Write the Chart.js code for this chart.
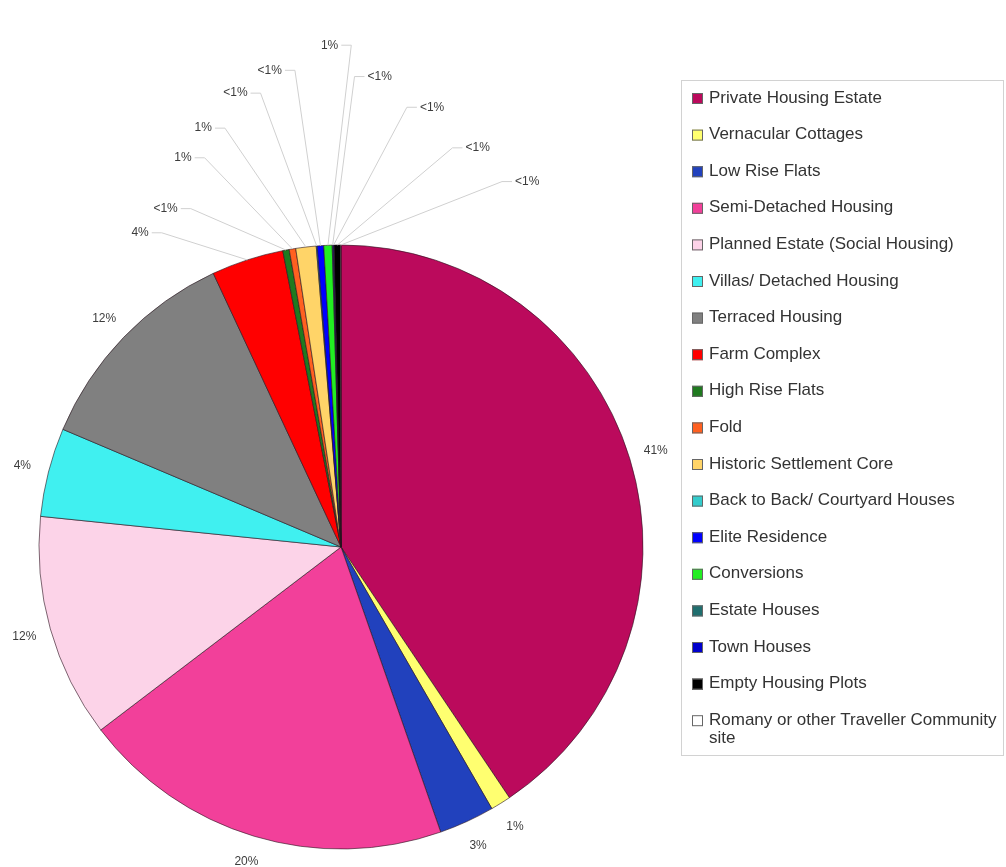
<!DOCTYPE html>
<html>
<head>
<meta charset="utf-8">
<style>
html, body { margin: 0; padding: 0; background: #fff; }
#wrap { width: 1006px; height: 867px; }
</style>
</head>
<body>
<div id="wrap"><canvas id="myChart" width="1006" height="867"></canvas></div>
<script src="https://cdn.jsdelivr.net/npm/chart.js@4/dist/chart.umd.min.js"></script>
<script>
// Housing types, in slice order (clockwise from 12 o'clock)
const categories = [
    'Private Housing Estate',
    'Vernacular Cottages',
    'Low Rise Flats',
    'Semi-Detached Housing',
    'Planned Estate (Social Housing)',
    'Villas/ Detached Housing',
    'Terraced Housing',
    'Farm Complex',
    'High Rise Flats',
    'Fold',
    'Historic Settlement Core',
    'Back to Back/ Courtyard Houses',
    'Elite Residence',
    'Conversions',
    'Estate Houses',
    'Town Houses',
    'Empty Housing Plots',
    'Romany or other Traveller Community site'
];

// Share of each type (%)
const shares = [41, 1.1, 3.0, 20.2, 12.1, 4.8, 11.8, 3.9, 0.35, 0.35, 1.1, 0.05, 0.35, 0.45, 0.05, 0.05, 0.35, 0.02];

// Labels as printed on the chart
const shareLabels = ['41%', '1%', '3%', '20%', '12%', '4%', '12%', '4%', '<1%', '1%', '1%', '<1%', '<1%', '1%', '<1%', '<1%', '<1%', '<1%'];

const sliceColors = [
    '#bb0a5c', '#ffff70', '#2141bd', '#f2409a', '#fcd3e8', '#40f0f0',
    '#808080', '#ff0000', '#1f7a1f', '#ff6020', '#ffd468', '#33cccc',
    '#0000ff', '#22ee22', '#1f6f6f', '#0000cc', '#000000', '#ffffff'
];

// slices from this index on get labels fanned out above the pie
const firstFanned = 7;
// where the fanned labels sit: degrees from 12 o'clock, distance in pie radii
const fanAngles = [-32.6, -27.4, -22.1, -18.2, -13.1, -8.5, -1.3, 4.7, 11.7, 18.9, 27];
const fanDistances = [1.235, 1.262, 1.391, 1.46, 1.543, 1.596, 1.662, 1.563, 1.487, 1.397, 1.358];

const labelFont = '12px "Liberation Sans", Arial, sans-serif';
const legendFont = '17px "Liberation Sans", Arial, sans-serif';

// Labels around the pie, with leader lines for the thin slices
const sliceLabels = {
    id: 'sliceLabels',
    afterDatasetsDraw(chart) {
        const ctx = chart.ctx;
        const arcs = chart.getDatasetMeta(0).data;
        const cx = arcs[0].x, cy = arcs[0].y, R = arcs[0].outerRadius;
        ctx.save();
        ctx.font = labelFont;
        ctx.fillStyle = '#3c3c3c';
        ctx.textBaseline = 'middle';
        ctx.textAlign = 'center';
        ctx.strokeStyle = '#d0d0d0';
        ctx.lineWidth = 1;
        arcs.forEach((arc, i) => {
            const mid = (arc.startAngle + arc.endAngle) / 2;
            if (i < firstFanned) {
                ctx.fillText(shareLabels[i], cx + Math.cos(mid) * (R + 27), cy + Math.sin(mid) * (R + 27));
                return;
            }
            const k = i - firstFanned;
            const rad = fanAngles[k] * Math.PI / 180;
            const d = R * fanDistances[k];
            const lx = cx + Math.sin(rad) * d;
            const ly = cy - Math.cos(rad) * d;
            const half = ctx.measureText(shareLabels[i]).width / 2;
            const dir = fanAngles[k] < 0 ? 1 : -1;
            const stubStart = lx + dir * (half + 3);
            const stubEnd = stubStart + dir * 10;
            ctx.beginPath();
            ctx.moveTo(cx + Math.cos(mid) * R, cy + Math.sin(mid) * R);
            ctx.lineTo(stubEnd, ly);
            ctx.lineTo(stubStart, ly);
            ctx.stroke();
            ctx.fillText(shareLabels[i], lx, ly);
        });
        ctx.restore();
    }
};

// Boxed legend on the right
const boxLegend = {
    id: 'boxLegend',
    afterDraw(chart) {
        const ctx = chart.ctx;
        const left = 681, top = 80, width = 322, height = 675;
        const rowGap = 36.6;
        ctx.save();
        ctx.strokeStyle = '#d2d2d2';
        ctx.lineWidth = 1;
        ctx.strokeRect(left + 0.5, top + 0.5, width, height);
        ctx.font = legendFont;
        ctx.textBaseline = 'middle';
        ctx.textAlign = 'left';
        const textX = left + 28;
        const maxW = width - 34;
        categories.forEach((name, i) => {
            const y = top + 18 + i * rowGap;
            ctx.fillStyle = sliceColors[i];
            ctx.fillRect(left + 11, y - 5, 11, 11);
            ctx.strokeStyle = '#666';
            ctx.strokeRect(left + 11.5, y - 4.5, 10, 10);
            ctx.fillStyle = '#333';
            // wrap long names
            const words = name.split(' ');
            let line = '', ly = y;
            words.forEach(w => {
                const test = line ? line + ' ' + w : w;
                if (ctx.measureText(test).width > maxW && line) {
                    ctx.fillText(line, textX, ly);
                    line = w;
                    ly += 18;
                } else {
                    line = test;
                }
            });
            ctx.fillText(line, textX, ly);
        });
        ctx.restore();
    }
};

const ctx = document.getElementById('myChart').getContext('2d');
const myChart = new Chart(ctx, {
    type: 'pie',
    data: {
        labels: categories,
        datasets: [{
            data: shares,
            backgroundColor: sliceColors,
            borderColor: 'rgba(40, 20, 30, 0.6)',
            borderWidth: 1,
            hoverOffset: 0
        }]
    },
    options: {
        responsive: false,
        animation: false,
        radius: 302,
        layout: {
            padding: { left: 39, right: 363, top: 245, bottom: 18 }
        },
        plugins: {
            legend: { display: false },
            tooltip: { enabled: false }
        }
    },
    plugins: [sliceLabels, boxLegend]
});
</script>
</body>
</html>
